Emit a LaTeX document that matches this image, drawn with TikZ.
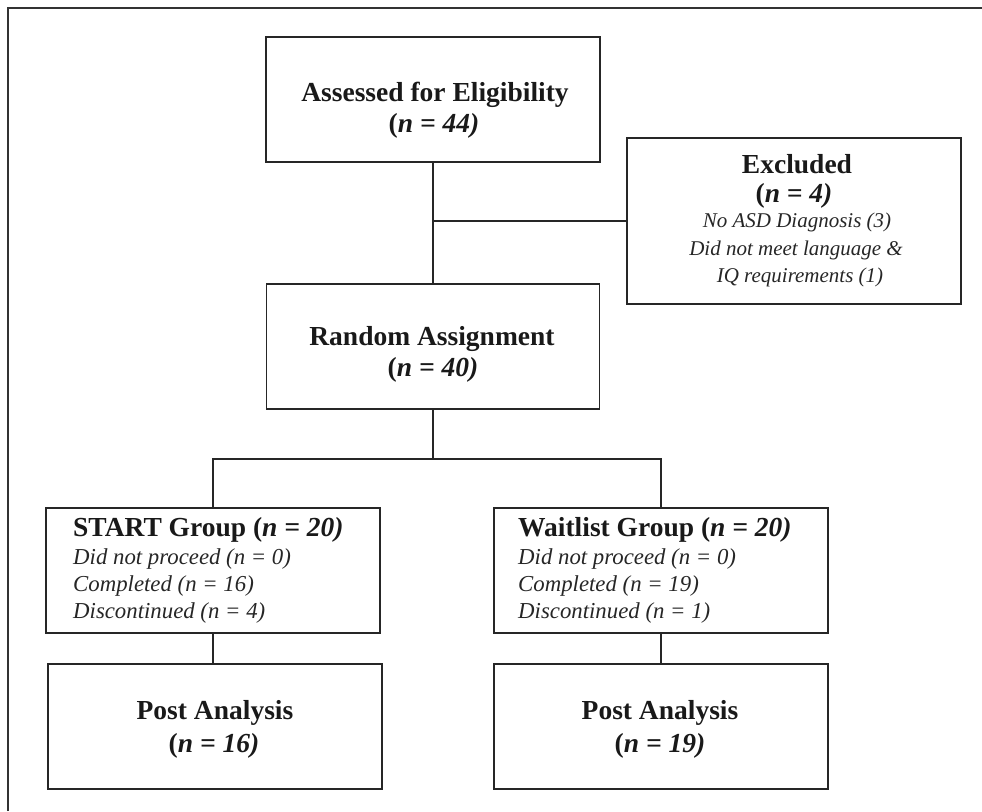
\documentclass[tikz,border=0pt]{standalone}
\usepackage{fontspec}
\setmainfont{Liberation Serif}
\begin{document}
\begin{tikzpicture}[x=1pt,y=-1pt,
  box/.style={draw=black!85, line width=1.8pt, minimum width=334pt, minimum height=125pt, inner sep=0pt},
  conn/.style={draw=black!85, line width=1.8pt},
  framel/.style={draw=black!80, line width=2pt},
  hd/.style={font=\fontsize{27.5}{33}\selectfont\bfseries, inner sep=0pt, text=black!90},
  itg/.style={font=\fontsize{22.8}{27}\selectfont\itshape, inner sep=0pt, text=black!85},
  itx/.style={font=\fontsize{21}{27}\selectfont\itshape, inner sep=0pt, text=black!85}]
\useasboundingbox (0,0) rectangle (982,811);
% outer frame (top and left only)
\coordinate (fBL) at (7.5,811);
\coordinate (fTL) at (7.5,7.5);
\coordinate (fTR) at (982,7.5);
\draw[framel] (fBL) -- (fTL) -- (fTR);

% boxes
\node[box] (A) at (433,99.5) {};
\node[box, minimum width=333pt] (R) at (433,346.5) {};
\node[box, minimum height=166pt] (E) at (794,221) {};
\node[box] (S) at (213,570.5) {};
\node[box] (W) at (661,570.5) {};
\node[box] (PL) at (215,726.5) {};
\node[box] (PR) at (661,726.5) {};

% texts
\node[hd, anchor=base] (At1) at (435,101) {Assessed for Eligibility};
\node[hd, anchor=base] (At2) at (434,132) {(\textit{n = 44)}};
\node[hd, anchor=base] (Rt1) at (432,345) {Random Assignment};
\node[hd, anchor=base] (Rt2) at (433,376) {(\textit{n = 40)}};
\node[hd, anchor=base] (Et1) at (797,173) {Excluded};
\node[hd, anchor=base] (Et2) at (794,202) {(\textit{n = 4)}};
\node[itx, anchor=base] (Et3) at (797,227) {No ASD Diagnosis (3)};
\node[itx, anchor=base] (Et4) at (796,255) {Did not meet language \&};
\node[itx, anchor=base] (Et5) at (800,282) {IQ requirements (1)};

\node[hd, anchor=base west] (St1) at (73,536) {START Group (\textit{n = 20)}};
\node[itg, anchor=base west] (St2) at (73,564) {Did not proceed (n = 0)};
\node[itg, anchor=base west] (St3) at (73,591) {Completed (n = 16)};
\node[itg, anchor=base west] (St4) at (73,618) {Discontinued (n = 4)};

\node[hd, anchor=base west] (Wt1) at (518,536) {Waitlist Group (\textit{n = 20)}};
\node[itg, anchor=base west] (Wt2) at (518,564) {Did not proceed (n = 0)};
\node[itg, anchor=base west] (Wt3) at (518,591) {Completed (n = 19)};
\node[itg, anchor=base west] (Wt4) at (518,618) {Discontinued (n = 1)};

\node[hd, anchor=base] (PLt1) at (215,719) {Post Analysis};
\node[hd, anchor=base] (PLt2) at (214,752) {(\textit{n = 16)}};
\node[hd, anchor=base] (PRt1) at (660,719) {Post Analysis};
\node[hd, anchor=base] (PRt2) at (660,752) {(\textit{n = 19)}};

% connectors
\coordinate (split) at (433,459);
\draw[conn] (A.south) -- (R.north);
\draw[conn] (A.south |- E.west) -- (E.west);
\draw[conn] (R.south) -- (split);
\draw[conn] (S.north) -- (S.north |- split) -- (W.north |- split) -- (W.north);
\draw[conn] (S.south) -- (S.south |- PL.north);
\draw[conn] (W.south) -- (W.south |- PR.north);
\end{tikzpicture}
\end{document}
